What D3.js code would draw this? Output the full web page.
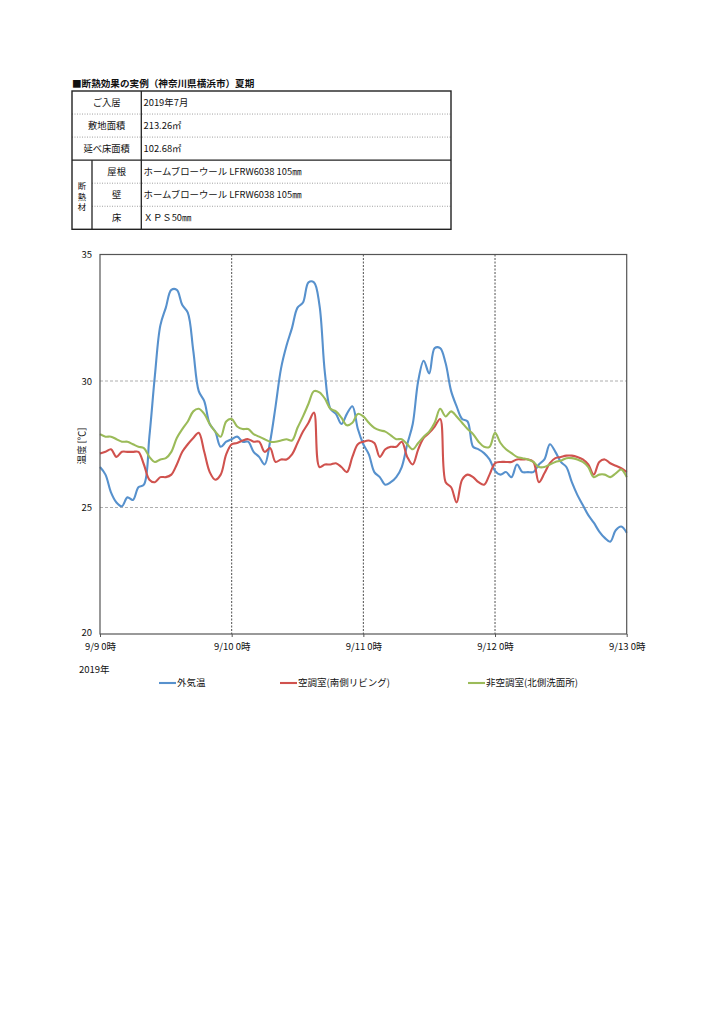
<!DOCTYPE html>
<html><head><meta charset="utf-8">
<script src="https://cdn.jsdelivr.net/npm/d3@7"></script>
<style>html,body{margin:0;padding:0;background:#fff;}svg{display:block;}</style>
</head><body>
<svg id="c" width="723" height="1024"></svg>
<script>
// ---- table data ----
const titleText = "■断熱効果の実例（神奈川県横浜市）夏期";
const tableLabels = ["ご入居","敷地面積","延べ床面積","屋根","壁","床"];
const tableValues = ["2019年7月","213.26㎡","102.68㎡","ホームブローウール LFRW6038 105㎜","ホームブローウール LFRW6038 105㎜","ＸＰＳ50㎜"];
const groupLabel = ["断","熱","材"];

// ---- chart data (hourly, 9/9 0時 .. 9/13 0時) ----
const hours = d3.range(0, 97);
const xTickHours = [0, 24, 48, 72, 96];
const xTickLabels = ["9/9 0時","9/10 0時","9/11 0時","9/12 0時","9/13 0時"];
const yTicks = [20, 25, 30, 35];
const seriesNames = ["外気温","空調室(南側リビング)","非空調室(北側洗面所)"];
const outdoor = [
 26.6,26.3,25.6,25.2,25.05,25.4,25.3,25.8,25.9,27.8,30.2,32.2,32.9,33.6,33.6,33.0,32.7,31.2,29.6,29.2,28.3,28.0,27.4,27.6,
 27.7,27.8,27.6,27.6,27.2,27.0,26.7,27.6,29.0,30.5,31.4,32.1,32.9,33.1,33.9,33.9,33.0,30.3,28.9,28.7,28.3,28.7,29.0,28.1,
 27.5,27.1,26.4,26.2,25.9,26.0,26.2,26.6,27.5,28.3,30.0,30.8,30.3,31.3,31.3,30.7,29.6,29.0,28.5,28.4,27.4,27.3,27.15,26.9,
 26.45,26.3,26.4,26.2,26.7,26.4,26.4,26.4,26.7,26.9,27.5,27.2,26.8,26.6,26.0,25.5,25.1,24.7,24.4,24.05,23.8,23.65,24.1,24.25,24.0
];
const livingAC = [
 27.13,27.2,27.3,27.0,27.2,27.2,27.2,27.2,26.7,26.1,26.0,26.2,26.2,26.3,26.7,27.2,27.5,27.75,27.95,27.2,26.4,26.1,26.3,27.1,
 27.5,27.55,27.65,27.7,27.6,27.6,27.2,27.35,26.8,26.9,26.9,27.1,27.55,28.0,28.35,28.75,26.6,26.7,26.7,26.75,26.6,26.4,27.0,27.5,
 27.6,27.65,27.55,27.0,27.3,27.4,27.4,27.6,27.0,26.7,27.3,27.75,27.95,28.2,28.5,26.0,25.8,25.2,26.1,26.3,26.2,26.0,25.9,26.3,
 26.75,26.8,26.8,26.8,26.9,26.9,26.9,26.8,26.0,26.35,26.75,26.95,27.0,27.05,27.05,27.0,26.9,26.7,26.3,26.8,26.9,26.75,26.65,26.55,26.4
];
const washroom = [
 27.9,27.8,27.8,27.7,27.6,27.6,27.5,27.4,27.35,27.0,26.8,26.9,26.95,27.2,27.75,28.1,28.4,28.8,28.9,28.7,28.3,28.0,27.8,28.4,
 28.5,28.2,28.1,28.1,27.9,27.8,27.7,27.6,27.6,27.65,27.7,27.65,28.15,28.6,29.1,29.6,29.55,29.3,28.9,28.8,28.55,28.25,28.35,28.7,
 28.6,28.35,28.15,28.05,28.0,27.85,27.7,27.7,27.5,27.3,27.55,27.8,28.0,28.35,28.9,28.6,28.8,28.6,28.35,28.1,27.9,27.6,27.4,27.4,
 27.95,27.55,27.3,27.15,27.0,26.95,26.9,26.8,26.6,26.6,26.7,26.8,26.85,26.95,26.95,26.9,26.8,26.6,26.2,26.3,26.3,26.2,26.35,26.5,26.2
];
const seriesData = [outdoor, livingAC, washroom];
const seriesColors = ["#5791cd","#d0524e","#9bbb59"];

const FONT = "'Noto Sans CJK JP','Noto Sans',sans-serif";
const svg = d3.select("#c").style("font-family", FONT);

// ---- title ----
svg.append("text").attr("x", 72).attr("y", 86.5).attr("font-size", 9.6).attr("font-weight", "bold")
  .attr("fill", "#111").text(titleText);

// ---- table ----
const tL = 72, tR = 451, tT = 91, rowH = 23.05, colM = 141.3, colG = 92;
const rowY = d3.range(7).map(i => tT + i * rowH);
const tb = svg.append("g");
[1, 2].forEach(i => tb.append("line").attr("x1", tL).attr("x2", tR).attr("y1", rowY[i]).attr("y2", rowY[i])
  .attr("stroke", "#888").attr("stroke-width", 0.8).attr("stroke-dasharray", "1,1.5"));
[4, 5].forEach(i => tb.append("line").attr("x1", colG).attr("x2", tR).attr("y1", rowY[i]).attr("y2", rowY[i])
  .attr("stroke", "#888").attr("stroke-width", 0.8).attr("stroke-dasharray", "1,1.5"));
tb.append("line").attr("x1", tL).attr("x2", tR).attr("y1", rowY[3]).attr("y2", rowY[3]).attr("stroke", "#222").attr("stroke-width", 1.3);
tb.append("line").attr("x1", colM).attr("x2", colM).attr("y1", rowY[0]).attr("y2", rowY[6]).attr("stroke", "#222").attr("stroke-width", 1.3);
tb.append("line").attr("x1", colG).attr("x2", colG).attr("y1", rowY[3]).attr("y2", rowY[6]).attr("stroke", "#222").attr("stroke-width", 1.3);
tb.append("rect").attr("x", tL).attr("y", rowY[0]).attr("width", tR - tL).attr("height", rowY[6] - rowY[0])
  .attr("fill", "none").attr("stroke", "#222").attr("stroke-width", 1.4);
tableLabels.forEach((t, i) => {
  const cx = i < 3 ? (tL + colM) / 2 : (colG + colM) / 2;
  tb.append("text").attr("x", cx).attr("y", rowY[i] + rowH / 2).attr("dy", "0.35em").attr("text-anchor", "middle")
    .attr("font-size", 9.3).attr("fill", "#111").text(t);
});
tableValues.forEach((t, i) => {
  tb.append("text").attr("x", 143.5).attr("y", rowY[i] + rowH / 2).attr("dy", "0.35em")
    .attr("font-size", 9.4).attr("fill", "#111").text(t);
});
groupLabel.forEach((t, i) => {
  tb.append("text").attr("x", (tL + colG) / 2).attr("y", 186.5 + i * 10.4).attr("dy", "0.35em").attr("text-anchor", "middle")
    .attr("font-size", 8.4).attr("fill", "#111").text(t);
});

// ---- chart ----
const pL = 100, pR = 626.7, pT = 254.5, pB = 634;
const x = d3.scaleLinear().domain([0, 96]).range([pL, pR]);
const y = d3.scaleLinear().domain([20, 35]).range([pB, pT]);
const g = svg.append("g");

g.selectAll(".hg").data(yTicks.filter(v => v > 20 && v < 35)).join("line")
  .attr("x1", pL).attr("x2", pR).attr("y1", d => y(d)).attr("y2", d => y(d))
  .attr("stroke", "#9a9a9a").attr("stroke-width", 0.8).attr("stroke-dasharray", "3,2");
g.selectAll(".vg").data(xTickHours.filter(v => v > 0 && v < 96)).join("line")
  .attr("x1", d => x(d)).attr("x2", d => x(d)).attr("y1", pT).attr("y2", pB)
  .attr("stroke", "#222").attr("stroke-width", 0.8).attr("stroke-dasharray", "2,1.5");

const line = d3.line().x((d, i) => x(hours[i])).y(d => y(d)).curve(d3.curveCatmullRom.alpha(0.5));
seriesData.forEach((s, k) => {
  g.append("path").datum(s).attr("d", line).attr("fill", "none")
    .attr("stroke", seriesColors[k]).attr("stroke-width", 2.1).attr("stroke-linejoin", "round");
});

g.append("rect").attr("x", pL).attr("y", pT).attr("width", pR - pL).attr("height", pB - pT)
  .attr("fill", "none").attr("stroke", "#555").attr("stroke-width", 1.2);

const xAxis = d3.axisBottom(x).tickValues(xTickHours).tickFormat((d, i) => xTickLabels[i]).tickSize(3).tickPadding(6);
const xa = g.append("g").attr("transform", `translate(0,${pB})`).call(xAxis);
xa.select(".domain").remove();
xa.selectAll("line").attr("stroke", "#555");
xa.selectAll("text").attr("font-size", 9.5).attr("fill", "#111").attr("font-family", FONT);

const yAxis = d3.axisLeft(y).tickValues(yTicks).tickSize(0).tickPadding(8);
const ya = g.append("g").attr("transform", `translate(${pL},0)`).call(yAxis);
ya.select(".domain").remove();
ya.selectAll("text").attr("font-size", 9.5).attr("fill", "#111").attr("font-family", FONT)
  .attr("dy", d => d === 20 ? "0.2em" : "0.32em");

svg.append("text").attr("transform", "translate(82,446) rotate(-90)").attr("text-anchor", "middle")
  .attr("dy", "0.35em").attr("font-size", 9.5).attr("fill", "#111").text("温度 [℃]");

svg.append("text").attr("x", 79).attr("y", 673).attr("font-size", 9.5).attr("fill", "#111").text("2019年");

const legX = [159, 280, 468];
seriesNames.forEach((n, k) => {
  const lg = svg.append("g").attr("transform", `translate(${legX[k]},683)`);
  lg.append("line").attr("x1", 0).attr("x2", 17).attr("y1", 0).attr("y2", 0)
    .attr("stroke", seriesColors[k]).attr("stroke-width", 2.1);
  lg.append("text").attr("x", 18).attr("y", 0).attr("dy", "0.35em").attr("font-size", 9.5).attr("fill", "#111").text(n);
});
</script>
</body></html>
